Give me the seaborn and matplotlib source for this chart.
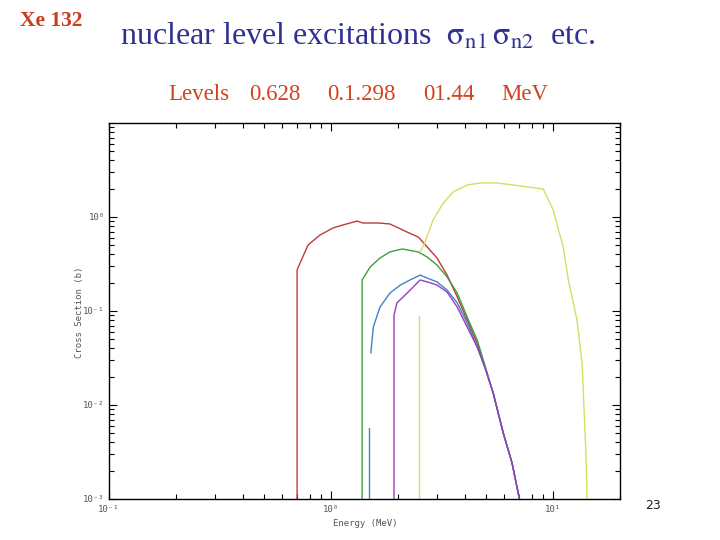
import numpy as np
import pandas as pd
import matplotlib
matplotlib.use("Agg")
import matplotlib.pyplot as plt
import seaborn as sns
from matplotlib.ticker import LogLocator, NullFormatter

# ---- data ----
red_E = [0.703, 0.703, 0.725, 0.788, 0.892, 1.02, 1.13, 1.31, 1.39, 1.64, 1.84, 2.20, 2.47, 2.71, 3.00, 3.33, 3.70, 4.10, 4.55, 4.84, 5.37, 5.96, 6.53, 7.03]
red_S = [0.001, 0.273, 0.324, 0.504, 0.644, 0.764, 0.822, 0.906, 0.863, 0.863, 0.843, 0.692, 0.612, 0.480, 0.366, 0.241, 0.141, 0.080, 0.0457, 0.0287, 0.0134, 0.00504, 0.00242, 0.00103]

green_E = [1.38, 1.38, 1.50, 1.66, 1.84, 2.09, 2.47, 2.71, 3.00, 3.33, 3.70, 4.10, 4.55, 4.94, 5.37, 5.96, 6.53, 7.03]
green_S = [0.001, 0.214, 0.294, 0.366, 0.425, 0.457, 0.425, 0.375, 0.308, 0.230, 0.155, 0.0863, 0.0491, 0.026, 0.0134, 0.00504, 0.00242, 0.00103]

blue_E1 = [1.48, 1.48]
blue_S1 = [0.001, 0.00569]
blue_E2 = [1.51, 1.55, 1.66, 1.84, 2.05, 2.27, 2.52, 2.71, 3.00, 3.33, 3.70, 4.10, 4.55, 4.94, 5.37, 5.96, 6.53, 7.03]
blue_S2 = [0.0357, 0.0676, 0.110, 0.155, 0.189, 0.214, 0.241, 0.224, 0.204, 0.167, 0.122, 0.0745, 0.0414, 0.0248, 0.0134, 0.00504, 0.00242, 0.00103]

purple_E = [1.92, 1.92, 1.98, 2.20, 2.52, 2.71, 3.00, 3.33, 3.70, 4.10, 4.55, 4.94, 5.37, 5.96, 6.53, 7.03]
purple_S = [0.001, 0.0906, 0.122, 0.155, 0.214, 0.204, 0.189, 0.159, 0.110, 0.0676, 0.0414, 0.0248, 0.0134, 0.00504, 0.00242, 0.00103]

yellow_E1 = [2.49, 2.49]
yellow_S1 = [0.001, 0.0885]
yellow_E2 = [2.52, 2.65, 2.88, 3.20, 3.55, 4.10, 4.69, 5.60, 6.61, 7.64, 9.02, 10.0, 11.1, 11.7, 12.2, 12.8, 13.5, 13.8, 14.1, 14.2]
yellow_S2 = [0.425, 0.542, 0.929, 1.41, 1.85, 2.19, 2.30, 2.30, 2.19, 2.09, 1.99, 1.19, 0.480, 0.214, 0.137, 0.080, 0.028, 0.0082, 0.00242, 0.001]

x_ticks = [0.1, 1, 10]
x_tick_labels = ["10\u207b\u00b9", "10\u2070", "10\u00b9"]
y_ticks = [0.001, 0.01, 0.1, 1]
y_tick_labels = ["10\u207b\u00b3", "10\u207b\u00b2", "10\u207b\u00b9", "10\u2070"]

title_main = "nuclear level excitations  "
levels_words = ["Levels", "0.628", "0.1.298", "01.44", "MeV"]

# ---- build long-form table ----
segments = [
    ("red", "r1", red_E, red_S),
    ("green", "g1", green_E, green_S),
    ("yellow", "y1", yellow_E1, yellow_S1),
    ("yellow", "y2", yellow_E2, yellow_S2),
    ("blue", "b1", blue_E1, blue_S1),
    ("blue", "b2", blue_E2, blue_S2),
    ("purple", "p1", purple_E, purple_S),
]
rows = []
for series, seg, E, S in segments:
    for i, (e, s) in enumerate(zip(E, S)):
        rows.append({"series": series, "seg": seg, "order": i, "E": e, "S": s})
df = pd.DataFrame(rows)

palette = {"red": "#c03a3a", "green": "#3e9e3e", "yellow": "#d6de62",
           "blue": "#3f84c6", "purple": "#9a3cc2"}

sns.set_theme(style="white")
plt.rcParams["font.family"] = ["Liberation Serif", "DejaVu Serif"]
plt.rcParams["mathtext.fontset"] = "stix"

fig = plt.figure(figsize=(7.2, 5.4), dpi=100)
ax = fig.add_axes([109/720, 1-499/540, (620-109)/720, (499-123)/540])

for series in ["red", "green", "yellow", "blue", "purple"]:
    sub = df[df["series"] == series]
    sns.lineplot(data=sub, x="E", y="S", units="seg", estimator=None, sort=False,
                 color=palette[series], lw=1.0, ax=ax, legend=False)

ax.set_xscale("log")
ax.set_yscale("log")
ax.set_xlim(0.1, 20)
ax.set_ylim(1e-3, 10)

for sp in ax.spines.values():
    sp.set_color("black")
    sp.set_linewidth(1.0)

ax.xaxis.set_minor_locator(LogLocator(base=10, subs=np.arange(2, 10)))
ax.yaxis.set_minor_locator(LogLocator(base=10, subs=np.arange(2, 10)))
ax.xaxis.set_minor_formatter(NullFormatter())
ax.yaxis.set_minor_formatter(NullFormatter())
ax.set_xticks(x_ticks)
ax.set_xticklabels(x_tick_labels)
ax.set_yticks(y_ticks)
ax.set_yticklabels(y_tick_labels)
ax.tick_params(which="both", direction="in", top=True, right=True, bottom=True, left=True,
               color="black", width=0.8)
ax.tick_params(which="major", length=6, labelsize=6.5, labelcolor="#555555")
ax.tick_params(axis="x", which="major", pad=4)
ax.tick_params(axis="y", which="major", pad=3)
ax.tick_params(which="minor", length=3.5)
for lab in ax.get_xticklabels() + ax.get_yticklabels():
    lab.set_family(["DejaVu Sans Mono"])

ax.set_xlabel("Energy (MeV)", fontsize=6.5, family="DejaVu Sans Mono", color="#555555")
ax.set_ylabel("Cross Section (b)", fontsize=6.5, family="DejaVu Sans Mono", color="#555555")
ax.xaxis.set_label_coords((365-109)/511, (499-519)/376)
ax.yaxis.set_label_coords((84-109)/511, (499-312)/376)

# ---- titles ----
fig.text(20/720, 1-26/540, "Xe 132", fontsize=15.5, fontweight="bold", color="#cc3b1c",
         family="Liberation Serif")
fig.text(120/720, 1-45/540,
         title_main + r"$\mathrm{\sigma}_{\rm n1}\,\mathrm{\sigma}_{\rm n2}$  etc.",
         fontsize=23, color="#2e3192", family="Liberation Serif")
lev_x = [168, 249, 327, 423, 501]
for word, xp in zip(levels_words, lev_x):
    fig.text(xp/720, 1-100/540, word, fontsize=16.5, color="#d0431e", family="Liberation Serif")
fig.text(645/720, 1-509/540, "23", fontsize=9, color="#222222", family="DejaVu Sans")

fig.savefig("out.png", dpi=100)
